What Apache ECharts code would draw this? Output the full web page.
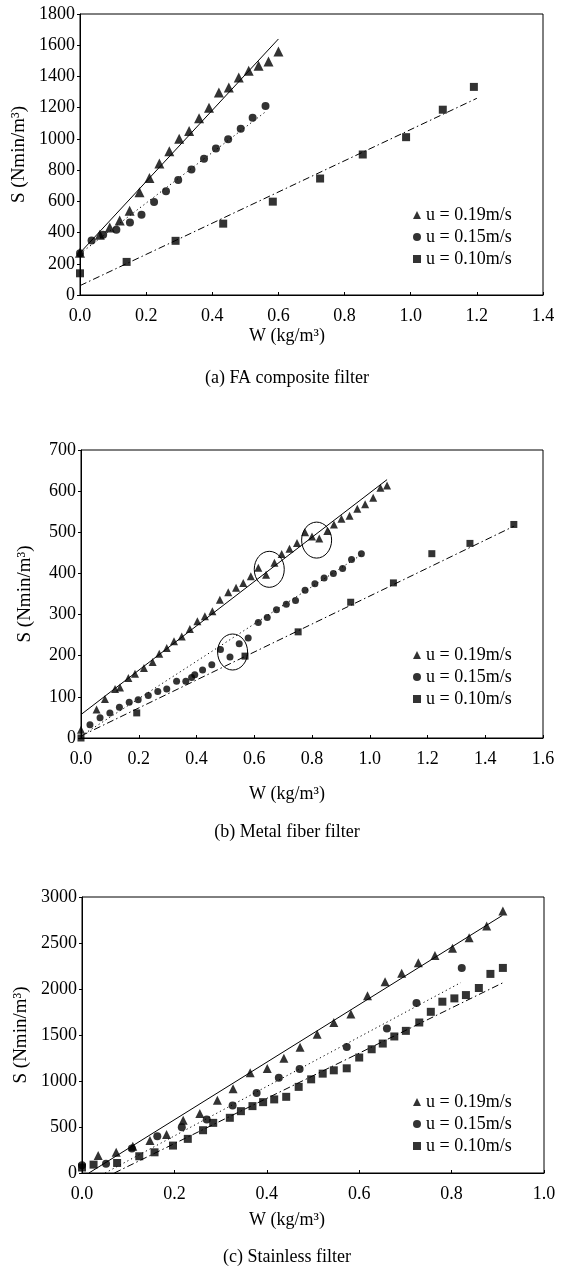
<!DOCTYPE html>
<html><head><meta charset="utf-8">
<script src="https://cdn.jsdelivr.net/npm/echarts@6/dist/echarts.min.js"></script>
<style>html,body{margin:0;padding:0;background:#fff}#c{width:563px;height:1283px}</style>
</head><body><div id="c"></div>
<script>
// ---------- Panel (a) FA composite filter ----------
const aW19 = [0, 0.06, 0.09, 0.12, 0.15, 0.18, 0.21, 0.24, 0.27, 0.30, 0.33, 0.36, 0.39, 0.42, 0.45, 0.48, 0.51, 0.54, 0.57, 0.60];
const aS19 = [270, 386, 433, 478, 540, 658, 750, 842, 921, 1001, 1050, 1132, 1200, 1297, 1329, 1393, 1436, 1468, 1496, 1560];
const aW15 = [0, 0.035, 0.07, 0.11, 0.151, 0.186, 0.224, 0.26, 0.297, 0.337, 0.375, 0.411, 0.448, 0.486, 0.522, 0.561];
const aS15 = [268, 349, 386, 418, 465, 514, 596, 664, 737, 804, 872, 939, 997, 1065, 1136, 1211];
const aW10 = [0, 0.141, 0.289, 0.433, 0.583, 0.726, 0.855, 0.986, 1.097, 1.191];
const aS10 = [139, 212, 347, 457, 598, 746, 900, 1011, 1187, 1333];
const aFitW19 = [0, 0.6],   aFitS19 = [270, 1640];
const aFitW15 = [0, 0.565], aFitS15 = [265, 1180];
const aFitW10 = [0, 1.2],   aFitS10 = [60, 1260];

// ---------- Panel (b) Metal fiber filter ----------
const bW19 = [0, 0.054, 0.083, 0.118, 0.135, 0.164, 0.187, 0.218, 0.248, 0.271, 0.297, 0.322, 0.349, 0.377, 0.403, 0.429, 0.455, 0.481, 0.510, 0.537, 0.562, 0.588, 0.614, 0.641, 0.670, 0.695, 0.722, 0.748, 0.776, 0.800, 0.825, 0.853, 0.876, 0.902, 0.930, 0.957, 0.984, 1.012, 1.037, 1.060];
const bS19 = [20, 69, 95, 119, 123, 146, 156, 170, 185, 205, 219, 235, 247, 265, 284, 296, 308, 336, 354, 365, 377, 393, 414, 397, 426, 447, 460, 474, 500, 490, 485, 503, 519, 533, 540, 557, 568, 584, 608, 614];
const bW15 = [0.031, 0.066, 0.100, 0.133, 0.167, 0.198, 0.233, 0.266, 0.297, 0.331, 0.363, 0.383, 0.394, 0.421, 0.453, 0.483, 0.516, 0.548, 0.579, 0.614, 0.645, 0.677, 0.711, 0.743, 0.776, 0.810, 0.842, 0.874, 0.906, 0.937, 0.971];
const bS15 = [32, 49, 61, 75, 87, 93, 103, 113, 119, 138, 138, 147, 154, 165, 178, 215, 197, 229, 243, 281, 293, 312, 325, 334, 359, 375, 389, 400, 412, 434, 448];
const bW10 = [0, 0.193, 0.568, 0.752, 0.934, 1.082, 1.215, 1.347, 1.499];
const bS10 = [0, 61, 199, 258, 330, 377, 448, 473, 519];
const bFitW19 = [0, 1.06], bFitS19 = [57, 628];
const bFitW15 = [0, 0.97], bFitS15 = [5, 445];
const bFitW10 = [0, 1.5],  bFitS10 = [5, 515];
const bRingW = [0.652, 0.816, 0.525];
const bRingS = [410, 481, 209];

// ---------- Panel (c) Stainless filter ----------
const cW19 = [0.035, 0.074, 0.110, 0.147, 0.183, 0.219, 0.255, 0.293, 0.327, 0.364, 0.401, 0.437, 0.472, 0.509, 0.545, 0.582, 0.618, 0.656, 0.692, 0.728, 0.764, 0.802, 0.838, 0.876, 0.911];
const cS19 = [189, 225, 290, 352, 418, 574, 647, 792, 916, 1091, 1135, 1246, 1367, 1509, 1636, 1727, 1927, 2080, 2171, 2284, 2363, 2444, 2556, 2684, 2848];
const cW15 = [0, 0.052, 0.108, 0.163, 0.216, 0.270, 0.326, 0.378, 0.426, 0.471, 0.573, 0.660, 0.724, 0.822];
const cS15 = [85, 101, 265, 400, 498, 582, 734, 869, 1036, 1130, 1370, 1571, 1847, 2229];
const cW10 = [0, 0.025, 0.076, 0.124, 0.157, 0.197, 0.229, 0.262, 0.284, 0.320, 0.344, 0.369, 0.392, 0.416, 0.442, 0.469, 0.496, 0.521, 0.545, 0.573, 0.600, 0.627, 0.651, 0.676, 0.701, 0.730, 0.755, 0.780, 0.806, 0.831, 0.859, 0.884, 0.911];
const cS10 = [60, 91, 109, 182, 225, 298, 371, 465, 545, 600, 672, 727, 770, 800, 828, 936, 1018, 1080, 1116, 1138, 1255, 1345, 1407, 1484, 1545, 1636, 1752, 1862, 1898, 1934, 2011, 2164, 2229];
const cFitW19 = [0.015, 0.91], cFitS19 = [0, 2800];
const cFitW15 = [0.05, 0.82],  cFitS15 = [0, 2070];
const cFitW10 = [0.07, 0.91],  cFitS10 = [0, 2065];

// ---------- labels ----------
const seriesNames = ['u = 0.19m/s', 'u = 0.15m/s', 'u = 0.10m/s'];
const yTitle = 'S (Nmin/m\u00b3)';
const xTitle = 'W (kg/m\u00b3)';
const captions = ['(a) FA composite filter', '(b) Metal fiber filter', '(c) Stainless filter'];
const xMax = [1.4, 1.6, 1.0];
const yMax = [1800, 700, 3000];
const yStep = [200, 100, 500];

// ---------- build ----------
const FONT = "'Liberation Serif','DejaVu Serif',serif";
const zip = (w, s) => w.map((v, i) => [v, s[i]]);
const grids = [
  {left: 80, width: 463, top: 14, height: 281},
  {left: 81, width: 462, top: 450, height: 288},
  {left: 82, width: 462, top: 897, height: 276}
];
const symbols = ['triangle', 'circle', 'rect'];
const symSize = [[10, 8, 8], [8, 7, 7], [9, 8, 8]];
const dashes = ['solid', [1.2, 3], [7, 3, 1.5, 3]];

const panels = [
  {pts: [[aW19, aS19], [aW15, aS15], [aW10, aS10]], fits: [[aFitW19, aFitS19], [aFitW15, aFitS15], [aFitW10, aFitS10]]},
  {pts: [[bW19, bS19], [bW15, bS15], [bW10, bS10]], fits: [[bFitW19, bFitS19], [bFitW15, bFitS15], [bFitW10, bFitS10]]},
  {pts: [[cW19, cS19], [cW15, cS15], [cW10, cS10]], fits: [[cFitW19, cFitS19], [cFitW15, cFitS15], [cFitW10, cFitS10]]}
];

const xAxis = [], yAxis = [], series = [], legend = [], graphic = [];
const legendTop = [199, 639, 1086];
const xTitleY = [336, 794, 1220];
const capY = [378, 832, 1257];

panels.forEach((p, i) => {
  xAxis.push({
    type: 'value', gridIndex: i, min: 0, max: xMax[i], interval: 0.2,
    axisLine: {show: true, lineStyle: {color: '#000', width: 1}},
    axisTick: {show: true, inside: true, length: 3, lineStyle: {color: '#000'}},
    axisLabel: {color: '#000', fontFamily: FONT, fontSize: 18, margin: 12, formatter: v => v.toFixed(1)},
    splitLine: {show: false}
  });
  yAxis.push({
    type: 'value', gridIndex: i, min: 0, max: yMax[i], interval: yStep[i],
    name: yTitle, nameLocation: 'middle', nameGap: 46, nameRotate: 90,
    nameTextStyle: {color: '#000', fontFamily: FONT, fontSize: 19},
    axisLine: {show: true, lineStyle: {color: '#000', width: 1}},
    axisTick: {show: true, inside: false, length: 3, lineStyle: {color: '#000'}},
    axisLabel: {color: '#000', fontFamily: FONT, fontSize: 18, margin: 5, formatter: v => String(Math.round(v))},
    splitLine: {show: false}
  });
  p.fits.forEach((f, k) => {
    series.push({
      type: 'line', name: 'fit' + i + k, xAxisIndex: i, yAxisIndex: i,
      data: zip(f[0], f[1]), showSymbol: false, symbol: 'none', silent: true,
      lineStyle: {color: '#000', width: 1, type: dashes[k]}, z: 2
    });
  });
  p.pts.forEach((d, k) => {
    series.push({
      type: 'scatter', name: seriesNames[k], xAxisIndex: i, yAxisIndex: i,
      data: zip(d[0], d[1]), symbol: symbols[k], symbolSize: symSize[i][k],
      itemStyle: {color: '#000'}, z: 3
    });
  });
  legend.push({
    orient: 'vertical', left: 408, top: legendTop[i], itemGap: 0,
    itemWidth: 8, itemHeight: 8, selectedMode: false,
    data: seriesNames.map((n, k) => ({name: n, icon: symbols[k]})),
    textStyle: {color: '#000', fontFamily: FONT, fontSize: 18, lineHeight: 22}
  });
  graphic.push({
    type: 'text', x: 287, y: xTitleY[i],
    style: {text: xTitle, fill: '#000', font: '18px ' + FONT, align: 'center', verticalAlign: 'middle'}
  });
  graphic.push({
    type: 'text', x: 287, y: capY[i],
    style: {text: captions[i], fill: '#000', font: '18px ' + FONT, align: 'center', verticalAlign: 'middle'}
  });
});

// annotation rings in panel (b)
series.push({
  type: 'custom', name: 'rings', xAxisIndex: 1, yAxisIndex: 1, silent: true, z: 4,
  data: zip(bRingW, bRingS),
  renderItem: (params, api) => {
    const c = api.coord([api.value(0), api.value(1)]);
    return {type: 'ellipse', shape: {cx: c[0], cy: c[1], rx: 15, ry: 18},
            style: {fill: 'none', stroke: '#000', lineWidth: 1}};
  }
});

const chart = echarts.init(document.getElementById('c'), null, {renderer: 'canvas'});
chart.setOption({
  backgroundColor: '#fff',
  animation: false,
  grid: grids.map(g => Object.assign({show: true, borderColor: '#000', borderWidth: 1, backgroundColor: 'transparent', containLabel: false}, g)),
  xAxis, yAxis, series, legend, graphic
});
</script></body></html>
